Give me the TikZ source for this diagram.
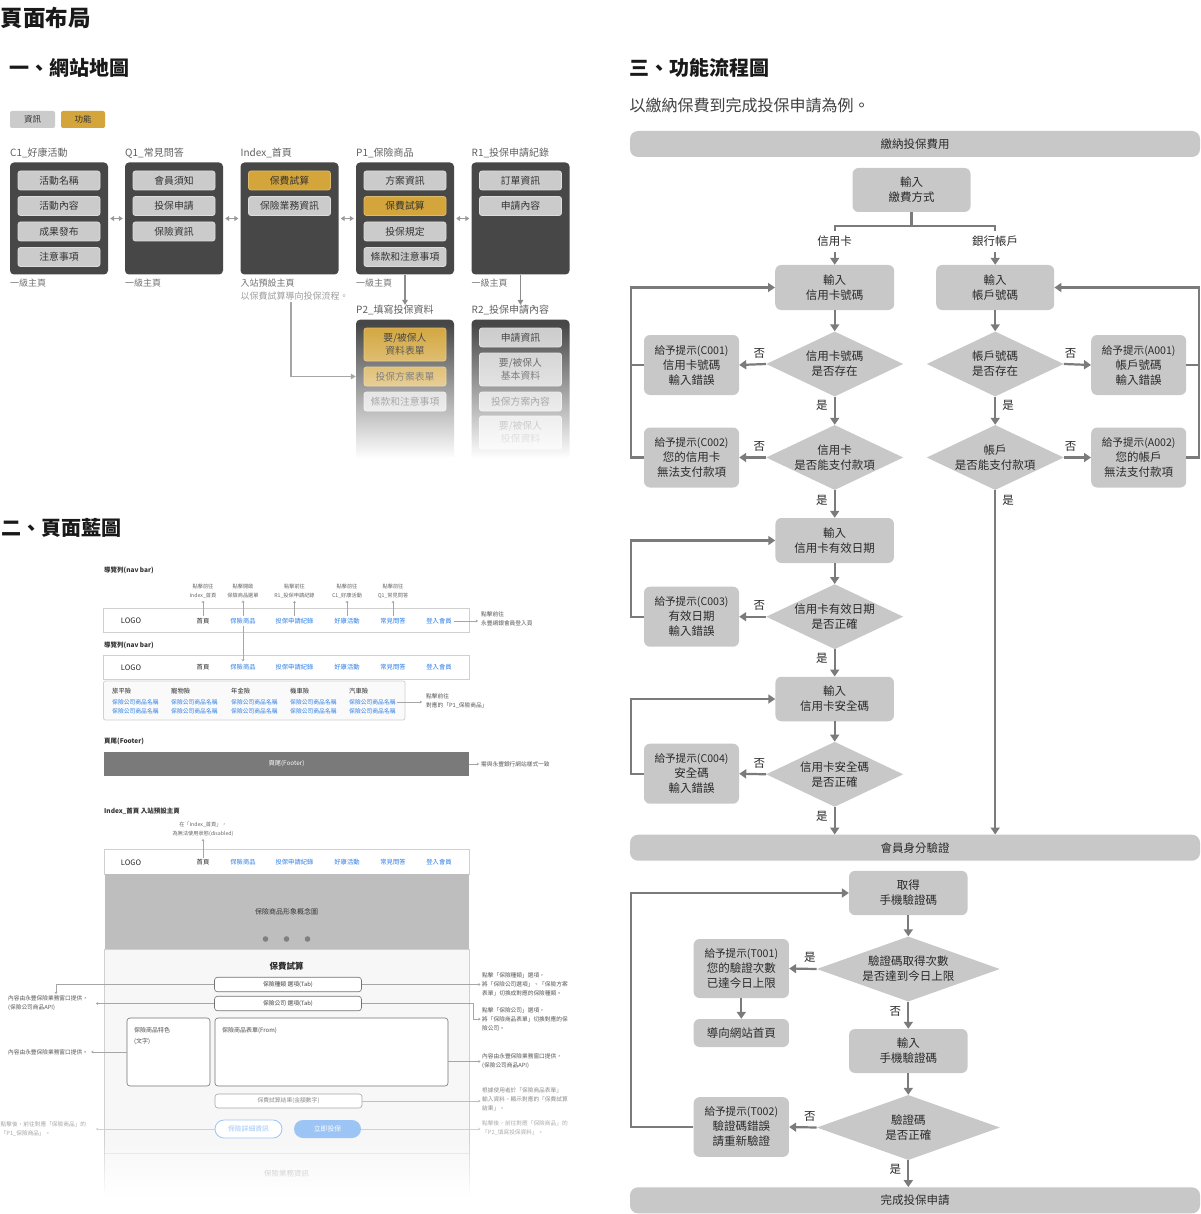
\documentclass[tikz,border=0pt]{standalone}
\usepackage{fontspec}
\setmainfont{Noto Sans CJK TC}
\usetikzlibrary{shapes.geometric,arrows.meta,fadings}
\newcommand\fsz[2]{\fontsize{#1}{#2}\selectfont}
\definecolor{dk}{HTML}{474747}
\definecolor{btn}{HTML}{CBCBCB}
\definecolor{btnb}{HTML}{DDDDDD}
\definecolor{gold}{HTML}{D3A53B}
\definecolor{fl}{HTML}{C8C8C8}
\definecolor{ar}{HTML}{7B7B7B}
\definecolor{tx}{HTML}{2A2A2A}
\definecolor{nb}{HTML}{2C7DE6}
\definecolor{lb}{HTML}{9CC5F6}
\definecolor{an}{HTML}{555555}
\definecolor{gl}{HTML}{9A9A9A}
\definecolor{hero}{HTML}{BEBEBE}
\definecolor{bd}{HTML}{D0D0D0}
\tikzfading[name=fadedown, top color=transparent!100, bottom color=transparent!0]
\begin{document}
\begin{tikzpicture}[x=1pt,y=-1pt,
  ttl/.style={anchor=west, inner sep=0, font=\fsz{20}{24}\bfseries, text=black!90},
  smlab/.style={anchor=west, inner sep=0, font=\fsz{10}{12}, text=black!62},
  smsub/.style={anchor=west, inner sep=0, font=\fsz{9}{11}, text=black!55},
  smbox/.style={fill=dk, rounded corners=4pt, minimum width=98, minimum height=112, inner sep=0},
  smbtn/.style={fill=btn, draw=btnb, line width=0.8pt, rounded corners=2.5pt, minimum width=82, minimum height=19, inner sep=0, font=\fsz{9.8}{12.5}, text=black!80, align=center},
  smgold/.style={smbtn, fill=gold, draw=gold!75!white},
  lgbox/.style={minimum height=17, rounded corners=2pt, inner sep=0, font=\fsz{8.5}{10}, text=black!80},
  dbl/.style={draw=gl, line width=1.3pt, {Triangle[length=4pt,width=5pt]}-{Triangle[length=4pt,width=5pt]}, shorten <=2pt, shorten >=2pt},
  garr/.style={draw=black!45, line width=1.3pt, -{Triangle[length=5pt,width=5.5pt]}},
  bplab/.style={anchor=west, inner sep=0, font=\fsz{6.5}{8}\bfseries, text=black!80},
  navbox/.style={draw=bd, fill=white, line width=0.6pt, minimum width=365.5, minimum height=24, inner sep=0},
  navi/.style={inner sep=0, font=\fsz{6.3}{8}, text=nb},
  navk/.style={inner sep=0, font=\fsz{6.3}{8}, text=black!85},
  logo/.style={inner sep=0, font=\fsz{7.5}{9}, text=black!85},
  nann/.style={inner sep=0, font=\fsz{5.2}{9}, text=black!60, align=center},
  annt/.style={anchor=west, inner sep=0, font=\fsz{5.7}{9}, text=an, align=left},
  aline/.style={draw=black!35, line width=0.6pt},
  tipend/.style={-{Stealth[length=2.2pt,width=3pt]}},
  tipup/.style={{Stealth[length=2.2pt,width=3pt]}-},
  ddh/.style={anchor=west, inner sep=0, font=\fsz{6.3}{8}, text=black!85},
  ddi/.style={anchor=west, inner sep=0, font=\fsz{5.8}{8}, text=nb},
  tabb/.style={draw=black!55, fill=white, rounded corners=3pt, line width=0.6pt, minimum width=147, minimum height=14.5, inner sep=0, font=\fsz{5.8}{8}, text=black!75},
  wbox/.style={draw=black!55, fill=white, rounded corners=3pt, line width=0.6pt, inner sep=0},
  fbox/.style={fill=fl, rounded corners=6pt, align=center, text=tx, font=\fsz{11.5}{15}, inner sep=0},
  fdia/.style={diamond, fill=fl, aspect=2.1, inner sep=-6pt, minimum width=137, minimum height=65, align=center, text=tx, font=\fsz{11.5}{15}},
  fbar/.style={fill=fl, rounded corners=8pt, minimum width=570, minimum height=26, inner sep=0, text=tx, font=\fsz{11.5}{14}},
  farr/.style={draw=ar, line width=2.2pt, -{Triangle[length=7pt,width=9pt]}},
  fline/.style={draw=ar, line width=2.2pt},
  flab/.style={inner sep=0, font=\fsz{11.5}{14}, text=tx}
]
\useasboundingbox (0,0) rectangle (1200,1214);
\fill[white] (0,0) rectangle (1200,1214);

% ---------- titles
\node[ttl, font=\fsz{22.5}{26}\bfseries] (t0) at (0.5,17.5) {頁面布局};
\node[ttl] (t1) at (9,68) {一、網站地圖};
\node[ttl] (t2) at (1,528) {二、頁面藍圖};
\node[ttl] (t3) at (629,68) {三、功能流程圖};
\node[anchor=west, inner sep=0, font=\fsz{16}{18}, text=black!75] (t3s) at (629.5,105) {以繳納保費到完成投保申請為例。};

% ---------- sitemap legend
\node[lgbox, fill=btn, minimum width=45] (lg1) at (32.5,119.5) {資訊};
\node[lgbox, fill=gold, minimum width=44] (lg2) at (83,119.5) {功能};

% ---------- sitemap columns
\node[smlab] (l1) at (10,153) {C1\_好康活動};
\node[smlab] (l2) at (125,153) {Q1\_常見問答};
\node[smlab] (l3) at (240.5,153) {Index\_首頁};
\node[smlab] (l4) at (356,153) {P1\_保險商品};
\node[smlab] (l5) at (471.5,153) {R1\_投保申請紀錄};

\node[smbox] (c1) at (59,218.5) {};
\node[smbox] (q1) at (174,218.5) {};
\node[smbox] (ix) at (289.5,218.5) {};
\node[smbox] (p1) at (405,218.5) {};
\node[smbox] (r1) at (520.5,218.5) {};

\node[smbtn] (c1a) at (59,180.5) {活動名稱};
\node[smbtn] (c1b) at (59,206) {活動內容};
\node[smbtn] (c1c) at (59,231.5) {成果發布};
\node[smbtn] (c1d) at (59,257) {注意事項};
\node[smbtn] (q1a) at (174,180.5) {會員須知};
\node[smbtn] (q1b) at (174,206) {投保申請};
\node[smbtn] (q1c) at (174,231.5) {保險資訊};
\node[smgold] (ixa) at (289.5,180.5) {保費試算};
\node[smbtn] (ixb) at (289.5,206) {保險業務資訊};
\node[smbtn] (p1a) at (405,180.5) {方案資訊};
\node[smgold] (p1b) at (405,206) {保費試算};
\node[smbtn] (p1c) at (405,231.5) {投保規定};
\node[smbtn] (p1d) at (405,257) {條款和注意事項};
\node[smbtn] (r1a) at (520.5,180.5) {訂單資訊};
\node[smbtn] (r1b) at (520.5,206) {申請內容};

\draw[dbl] (c1.east) -- (q1.west);
\draw[dbl] (q1.east) -- (ix.west);
\draw[dbl] (ix.east) -- (p1.west);
\draw[dbl] (p1.east) -- (r1.west);

\node[smsub] (s1) at (10,283) {一級主頁};
\node[smsub] (s2) at (125,283) {一級主頁};
\node[smsub] (s3) at (240.5,283) {入站預設主頁};
\node[smsub, text=black!38] (s3b) at (240.5,296) {以保費試算導向投保流程。};
\node[smsub] (s4) at (356,283) {一級主頁};
\node[smsub] (s5) at (471.5,283) {一級主頁};

\node[smlab] (l6) at (356,310) {P2\_填寫投保資料};
\node[smlab] (l7) at (471.5,310) {R2\_投保申請內容};

\node[smbox, minimum height=152, anchor=north] (p2) at (405,319.5) {};
\node[smbox, minimum height=152, anchor=north] (r2) at (520.5,319.5) {};
\node[smgold, minimum height=33] (p2a) at (405,344.5) {要/被保人\\資料表單};
\node[smgold] (p2b) at (405,376.5) {投保方案表單};
\node[smbtn] (p2c) at (405,401.5) {條款和注意事項};
\node[smbtn] (r2a) at (520.5,337.5) {申請資訊};
\node[smbtn, minimum height=33] (r2b) at (520.5,369.5) {要/被保人\\基本資料};
\node[smbtn] (r2c) at (520.5,401.5) {投保方案內容};
\node[smbtn, minimum height=33] (r2d) at (520.5,432.5) {要/被保人\\投保資料};
\fill[white, path fading=fadedown] (355.5,324) rectangle (575,458);
\fill[white] (355.5,457.5) rectangle (575,476);

\draw[garr] (p1.south) -- (p1.south |- l6.north);
\draw[garr] (r1.south) -- (r1.south |- l7.north);
\coordinate (ia) at (291,302);
\draw[garr, draw=black!35, line width=1.1pt] (ia) |- (p2b.west -| p2.west);

% ---------- blueprint: nav bar
\node[bplab] (nbl1) at (104,570) {導覽列(nav bar)};
\node[nann] (na1) at (203,591.5) {點擊前往\\Index\_首頁};
\node[nann] (na2) at (243,591.5) {點擊開啟\\保險商品選單};
\node[nann] (na3) at (294.5,591.5) {點擊前往\\R1\_投保申請紀錄};
\node[nann] (na4) at (347,591.5) {點擊前往\\C1\_好康活動};
\node[nann] (na5) at (393,591.5) {點擊前往\\Q1\_常見問答};
\node[navbox] (nav1) at (286.25,620) {};
\node[logo] (n1l) at (131,621) {LOGO};
\node[navk] (n1a) at (203,621) {首頁};
\node[navi] (n1b) at (243,621) {保險商品};
\node[navi] (n1c) at (294.5,621) {投保申請紀錄};
\node[navi] (n1d) at (347,621) {好康活動};
\node[navi] (n1e) at (393,621) {常見問答};
\node[navi] (n1f) at (439,621) {登入會員};
\draw[aline, tipup, shorten <=2pt, shorten >=2pt] (na1.south) -- (n1a.north);
\draw[aline, tipup, shorten <=2pt, shorten >=2pt] (na2.south) -- (n1b.north);
\draw[aline, tipup, shorten <=2pt, shorten >=2pt] (na3.south) -- (n1c.north);
\draw[aline, tipup, shorten <=2pt, shorten >=2pt] (na4.south) -- (n1d.north);
\draw[aline, tipup, shorten <=2pt, shorten >=2pt] (na5.south) -- (n1e.north);
\node[annt] (nal) at (481,618.5) {點擊前往\\永豐網銀會員登入頁};
\draw[aline, tipend, shorten <=2pt, shorten >=3pt] (n1f.east) -- (n1f.east -| nal.west);

\node[bplab] (nbl2) at (104,645) {導覽列(nav bar)};
\node[navbox] (nav2) at (286.25,667) {};
\node[logo] (n2l) at (131,667.5) {LOGO};
\node[navk] (n2a) at (203,667.5) {首頁};
\node[navi] (n2b) at (243,667.5) {保險商品};
\node[navi] (n2c) at (294.5,667.5) {投保申請紀錄};
\node[navi] (n2d) at (347,667.5) {好康活動};
\node[navi] (n2e) at (393,667.5) {常見問答};
\node[navi] (n2f) at (439,667.5) {登入會員};
\draw[aline, tipend, shorten <=2pt, shorten >=3pt] (n1b.south) -- (n2b.north);

\node[draw=bd, fill=black!2, rounded corners=2pt, line width=0.7pt, minimum width=301.5, minimum height=39, inner sep=0] (dd) at (254.25,700.5) {};
\node[ddh] (h1) at (112,691) {旅平險};
\node[ddh] (h2) at (171,691) {寵物險};
\node[ddh] (h3) at (231,691) {年金險};
\node[ddh] (h4) at (290,691) {機車險};
\node[ddh] (h5) at (349,691) {汽車險};
\node[ddi] (i1a) at (112,702) {保險公司商品名稱};
\node[ddi] (i1b) at (112,711) {保險公司商品名稱};
\node[ddi] (i2a) at (171,702) {保險公司商品名稱};
\node[ddi] (i2b) at (171,711) {保險公司商品名稱};
\node[ddi] (i3a) at (231,702) {保險公司商品名稱};
\node[ddi] (i3b) at (231,711) {保險公司商品名稱};
\node[ddi] (i4a) at (290,702) {保險公司商品名稱};
\node[ddi] (i4b) at (290,711) {保險公司商品名稱};
\node[ddi] (i5a) at (349,702) {保險公司商品名稱};
\node[ddi] (i5b) at (349,711) {保險公司商品名稱};
\node[annt] (nap) at (426,700.5) {點擊前往\\對應的「P1\_保險商品」};
\draw[aline, tipend, shorten <=1pt, shorten >=4pt] (i5a.east) -- (i5a.east -| nap.west);

% ---------- footer
\node[bplab] (ftl) at (104,741) {頁尾(Footer)};
\node[fill=black!52, minimum width=365, minimum height=24, inner sep=0, font=\fsz{6.3}{8}, text=white] (ft) at (286.5,764) {頁尾(Footer)};
\node[annt] (fta) at (481,764) {需與永豐銀行網站樣式一致};
\draw[aline, tipend, shorten >=2pt] (ft.east) -- (fta.west);

% ---------- index wireframe
\node[bplab] (ixl) at (104,811) {Index\_首頁 入站預設主頁};
\node[nann] (ixn) at (203,829.5) {在「Index\_首頁」，\\為無法使用狀態(disabled)};
\node[draw=bd, fill=black!3, line width=0.7pt, minimum width=365, minimum height=246, inner sep=0] (body) at (286.5,1072) {};
\node[draw=bd, fill=white, line width=0.7pt, minimum width=365, minimum height=25, inner sep=0] (ixnav) at (286.5,861.5) {};
\node[fill=hero, minimum width=364, minimum height=75, inner sep=0, font=\fsz{7}{9}, text=black!80] (hero) at (286.5,911.5) {保險商品形象概念圖};
\node[circle, fill=black!50, minimum size=5.6, inner sep=0] (dot1) at (265.5,939) {};
\node[circle, fill=black!50, minimum size=5.6, inner sep=0] (dot2) at (286.5,939) {};
\node[circle, fill=black!50, minimum size=5.6, inner sep=0] (dot3) at (307.5,939) {};
\node[logo] (x1l) at (131,862.5) {LOGO};
\node[navk] (x1a) at (203,862.5) {首頁};
\node[navi] (x1b) at (243,862.5) {保險商品};
\node[navi] (x1c) at (294.5,862.5) {投保申請紀錄};
\node[navi] (x1d) at (347,862.5) {好康活動};
\node[navi] (x1e) at (393,862.5) {常見問答};
\node[navi] (x1f) at (439,862.5) {登入會員};
\draw[aline, tipup, shorten <=2pt, shorten >=1pt] (ixn.south) -- (x1a.north);

\node[inner sep=0, font=\fsz{8.5}{10}\bfseries, text=black!85] (calc) at (286.5,966) {保費試算};
\node[tabb] (tab1) at (288,984.5) {保險種類 選項(Tab)};
\node[tabb] (tab2) at (288,1003.5) {保險公司 選項(Tab)};
\node[wbox, minimum width=83, minimum height=68] (feat) at (168.5,1052) {};
\node[wbox, minimum width=233, minimum height=68] (form) at (331.5,1052) {};
\node[annt, font=\fsz{6}{11}, text=black!70] (featt) at (134,1036.5) {保險商品特色\\(文字)};
\node[annt, font=\fsz{6}{11}, text=black!70] (formt) at (222,1031) {保險商品表單(From)};
\node[wbox, draw=black!35, minimum width=147, minimum height=14, font=\fsz{5.8}{8}, text=black!45] (res) at (288.5,1101) {保費試算結果(金額數字)};
\node[draw=lb, line width=0.8pt, fill=white, rounded corners=9pt, minimum width=67, minimum height=18, inner sep=0, font=\fsz{6.8}{8}, text=lb] (b1) at (248.5,1129) {保險詳細資訊};
\node[fill=lb, rounded corners=9pt, minimum width=67, minimum height=18, inner sep=0, font=\fsz{6.8}{8}, text=white] (b2) at (327.5,1129) {立即投保};
\coordinate (sepL) at (104.5,1153);
\coordinate (sepR) at (468.5,1153);
\draw[black!12, line width=0.7pt] (sepL) -- (sepR);
\node[inner sep=0, font=\fsz{7.5}{9}, text=black!40] (biz) at (286.5,1174) {保險業務資訊};
\fill[white, path fading=fadedown] (100,1138) rectangle (474,1196);
\fill[white] (100,1195.5) rectangle (474,1214);

% left annotations
\node[annt] (la1) at (8,1003.5) {內容由永豐保險業務窗口提供，\\(保險公司商品API)};
\coordinate (la1t) at (56,994);
\coordinate (la1r) at (96,1003.5);
\draw[aline, tipend] (tab1.west) -| (la1t);
\draw[aline, tipend] (tab2.west) -- (la1r);
\node[annt] (la2) at (8,1052) {內容由永豐保險業務窗口提供。};
\draw[aline, tipend, shorten >=3pt] (feat.west) -- (la2.east);
\node[annt, text=black!35] (la3) at (0.5,1129) {點擊後，前往對應「保險商品」的\\「P1\_保險商品」。};
\coordinate (la3r) at (96,1129);
\draw[aline, draw=black!18, tipend] (b1.west) -- (la3r);

% right annotations
\node[annt] (ra1) at (482,984) {點擊「保險種類」選項，\\將「保險公司選項」、「保險方案\\表單」切換成對應的保險種類。};
\draw[aline, tipend, shorten >=1.5pt] (tab1.east) -- (tab1.east -| ra1.west);
\node[annt] (ra2) at (482,1019) {點擊「保險公司」選項，\\將「保險商品表單」切換對應的保\\險公司。};
\coordinate (rb2) at (473.5,1003.5);
\draw[aline, tipend, shorten >=1.5pt] (tab2.east) -- (rb2) |- (ra2.west);
\node[annt] (ra3) at (482,1061.5) {內容由永豐保險業務窗口提供，\\(保險公司商品API)};
\draw[aline, tipend, shorten >=1.5pt] (form.east |- ra3.west) -- (ra3.west);
\node[annt, text=black!45] (ra4) at (482,1099) {根據使用者於「保險商品表單」\\輸入資料，顯示對應的「保費試算\\結果」。};
\draw[aline, draw=black!25, tipend, shorten >=1.5pt] (res.east) -- (res.east -| ra4.west);
\node[annt, text=black!32] (ra5) at (482,1128) {點擊後，前往對應「保險商品」的\\「P2\_填寫投保資料」。};
\draw[aline, draw=black!18, tipend, shorten >=1.5pt] (b2.east) -- (b2.east -| ra5.west);

% ---------- flowchart
\node[fbar] (bar1) at (915,144) {繳納投保費用};
\node[fbox, minimum width=118, minimum height=44] (pay) at (911.5,190) {輸入\\繳費方式};
\coordinate (brc) at (911.5,226);
\coordinate (brl) at (834.7,226);
\coordinate (brr) at (995.2,226);
\node[flab] (lcc) at (834.7,241) {信用卡};
\node[flab] (lac) at (995.2,241) {銀行帳戶};
\node[fbox, minimum width=119, minimum height=45] (ccin) at (834.7,287.5) {輸入\\信用卡號碼};
\node[fbox, minimum width=118, minimum height=45] (acin) at (995.2,287.5) {輸入\\帳戶號碼};
\node[fdia] (d1) at (834.7,364) {信用卡號碼\\是否存在};
\node[fdia] (d2) at (995.2,364) {帳戶號碼\\是否存在};
\node[fbox, minimum width=95, minimum height=60] (c001) at (691.5,365) {{\fsz{10.6}{15}給予提示(C001)}\\信用卡號碼\\輸入錯誤};
\node[fbox, minimum width=95, minimum height=60] (a001) at (1138.7,365) {{\fsz{10.6}{15}給予提示(A001)}\\帳戶號碼\\輸入錯誤};
\node[fdia] (d3) at (834.7,457.5) {信用卡\\是否能支付款項};
\node[fdia] (d4) at (995.2,457.5) {帳戶\\是否能支付款項};
\node[fbox, minimum width=95, minimum height=60] (c002) at (691.5,457.5) {{\fsz{10.6}{15}給予提示(C002)}\\您的信用卡\\無法支付款項};
\node[fbox, minimum width=95, minimum height=60] (a002) at (1138.7,457.5) {{\fsz{10.6}{15}給予提示(A002)}\\您的帳戶\\無法支付款項};
\node[fbox, minimum width=118.5, minimum height=45] (ccexp) at (834.7,540.5) {輸入\\信用卡有效日期};
\node[fdia] (d5) at (834.7,616.7) {信用卡有效日期\\是否正確};
\node[fbox, minimum width=95, minimum height=60] (c003) at (691.5,616.7) {{\fsz{10.6}{15}給予提示(C003)}\\有效日期\\輸入錯誤};
\node[fbox, minimum width=118.5, minimum height=44.5] (ccsec) at (834.7,699) {輸入\\信用卡安全碼};
\node[fdia] (d6) at (834.7,774.3) {信用卡安全碼\\是否正確};
\node[fbox, minimum width=95, minimum height=60] (c004) at (691.5,773.7) {{\fsz{10.6}{15}給予提示(C004)}\\安全碼\\輸入錯誤};
\node[fbar] (bar2) at (915,847.7) {會員身分驗證};
\node[fbox, minimum width=118.5, minimum height=44.3] (otp) at (908.3,893) {取得\\手機驗證碼};
\node[fdia, aspect=2.8, minimum width=183] (d7) at (908.3,969) {驗證碼取得次數\\是否達到今日上限};
\node[fbox, minimum width=95.3, minimum height=59] (t001) at (741.3,968.5) {{\fsz{10.6}{15}給予提示(T001)}\\您的驗證次數\\已達今日上限};
\node[fbox, minimum width=95.3, minimum height=28] (home) at (741.3,1033) {導向網站首頁};
\node[fbox, minimum width=118.5, minimum height=44] (otpin) at (908.3,1051) {輸入\\手機驗證碼};
\node[fdia, aspect=2.8, minimum width=183] (d8) at (908.3,1127.5) {驗證碼\\是否正確};
\node[fbox, minimum width=95.3, minimum height=59.7] (t002) at (741.3,1127) {{\fsz{10.6}{15}給予提示(T002)}\\驗證碼錯誤\\請重新驗證};
\node[fbar] (bar3) at (915,1200.3) {完成投保申請};

% connectors
\draw[fline] (pay.south) -- (brc);
\draw[fline, line join=miter] (brl) ++(0,5) -- (brl) -- (brr) -- ++(0,5);
\draw[farr, shorten <=5pt] (lcc.south) -- (ccin.north);
\draw[farr, shorten <=5pt] (lac.south) -- (acin.north);
\draw[farr] (ccin.south) -- (d1.north);
\draw[farr] (acin.south) -- (d2.north);
\draw[farr] (d1.west) -- node[flab, above=5pt, pos=0.25] {否} (c001.east);
\draw[farr] (d2.east) -- node[flab, above=5pt, pos=0.25] {否} (a001.west);
\draw[farr] (d1.south) -- node[flab, left=6pt, pos=0.3] {是} (d3.north);
\draw[farr] (d2.south) -- node[flab, right=6pt, pos=0.3] {是} (d4.north);
\draw[farr] (d3.west) -- node[flab, above=5pt, pos=0.25] {否} (c002.east);
\draw[farr] (d4.east) -- node[flab, above=5pt, pos=0.25] {否} (a002.west);
\draw[fline] (c001.west) -- ++(-13,0);
\draw[farr] (c002.west) -- ++(-13,0) |- (ccin.west);
\draw[fline] (a001.east) -- ++(12.5,0);
\draw[farr] (a002.east) -- ++(12.5,0) |- (acin.east);
\draw[farr] (d3.south) -- node[flab, left=6pt, pos=0.36] {是} (ccexp.north);
\draw[farr] (d4.south) -- node[flab, right=6pt, pos=0.03] {是} (d4.south |- bar2.north);
\draw[farr] (ccexp.south) -- (d5.north);
\draw[farr] (d5.west) -- node[flab, above=5pt, pos=0.25] {否} (c003.east);
\draw[farr] (c003.west) -- ++(-13,0) |- (ccexp.west);
\draw[farr] (d5.south) -- node[flab, left=6pt, pos=0.32] {是} (ccsec.north);
\draw[farr] (ccsec.south) -- (d6.north);
\draw[farr] (d6.west) -- node[flab, above=5pt, pos=0.25] {否} (c004.east);
\draw[farr] (c004.west) -- ++(-13,0) |- (ccsec.west);
\draw[farr] (d6.south) -- node[flab, left=6pt, pos=0.33] {是} (d6.south |- bar2.north);
\draw[farr] (otp.south) -- (d7.north);
\draw[farr] (d7.west) -- node[flab, above=5pt, pos=0.25] {是} (t001.east);
\draw[farr] (t001.south) -- (home.north);
\draw[farr] (d7.south) -- node[flab, left=6pt, pos=0.36] {否} (otpin.north);
\draw[farr] (otpin.south) -- (d8.north);
\draw[farr] (d8.west) -- node[flab, above=5pt, pos=0.25] {否} (t002.east);
\draw[farr] (t002.west) -- ++(-62.6,0) |- (otp.west);
\draw[farr] (d8.south) -- node[flab, left=6pt, pos=0.35] {是} (bar3.north -| d8.south);
\end{tikzpicture}
\end{document}
